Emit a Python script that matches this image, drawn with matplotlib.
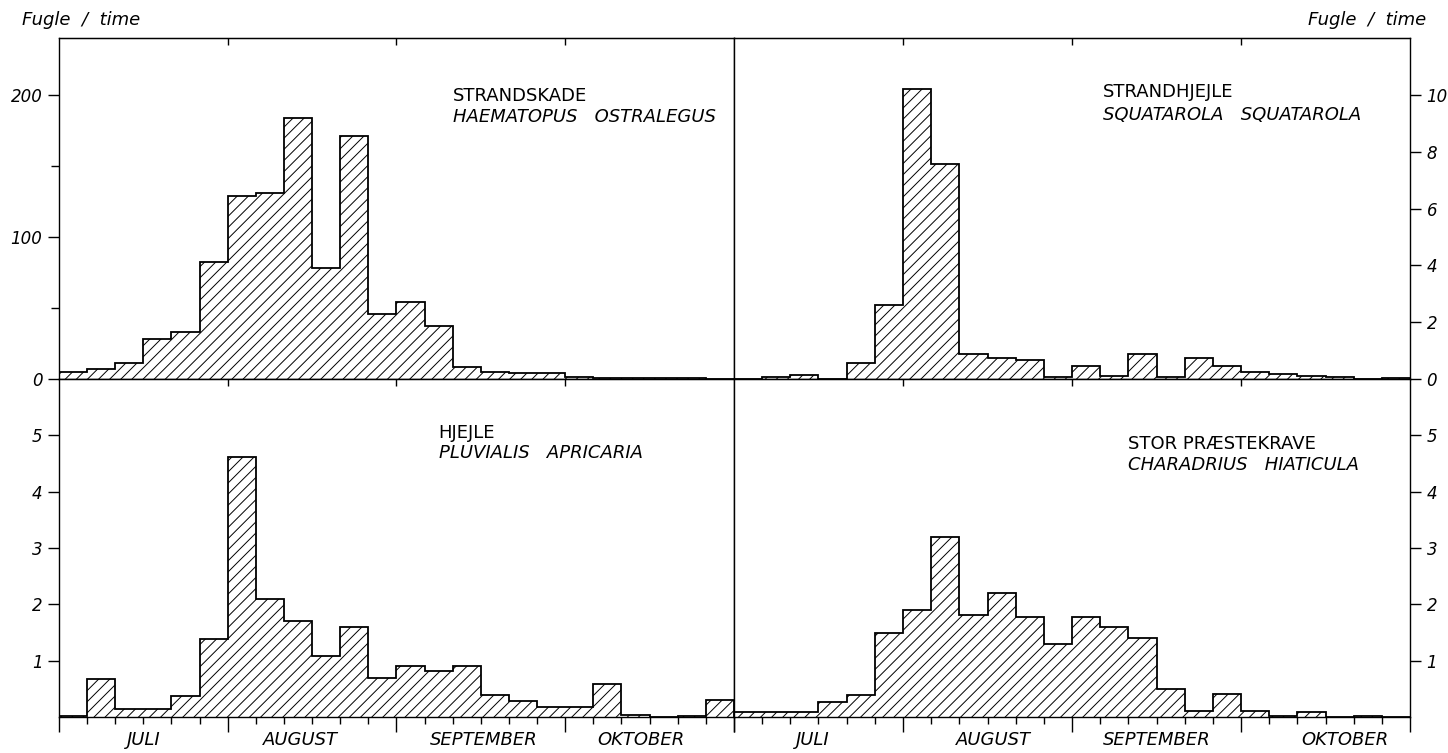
import matplotlib.pyplot as plt
import numpy as np

# 24 femdøgnsperioder fra 1. juli til 31. oktober (6 pr. måned)
n_perioder = 24
kanter = np.arange(n_perioder + 1)
maaned_graenser = [0, 6, 12, 18, 24]
maaneder = ['JULI', 'AUGUST', 'SEPTEMBER', 'OKTOBER']

# Fugle / time
strandskade = [5, 7, 11, 28, 33, 82, 129, 131, 184, 78, 171, 46,
               54, 37, 8.6, 5, 4.4, 4, 1.6, 0.9, 0.6, 0.5, 0.4, 0.3]
strandhjejle = [0, 0.08, 0.15, 0, 0.55, 2.6, 10.2, 7.55, 0.87, 0.74, 0.67, 0.08,
                0.45, 0.12, 0.87, 0.06, 0.75, 0.45, 0.26, 0.16, 0.1, 0.08, 0, 0.03]
hjejle = [0.02, 0.67, 0.15, 0.15, 0.37, 1.39, 4.61, 2.1, 1.7, 1.09, 1.6, 0.69,
          0.91, 0.81, 0.91, 0.39, 0.28, 0.18, 0.18, 0.59, 0.03, 0, 0.02, 0.3]
stor_praestekrave = [0.08, 0.08, 0.08, 0.27, 0.39, 1.49, 1.9, 3.2, 1.81, 2.2, 1.78, 1.3,
                     1.78, 1.59, 1.4, 0.5, 0.1, 0.4, 0.1, 0.02, 0.08, 0, 0.02, 0]

# måneds-etiketternes placering (lidt forskudt som i originalen)
etiket_x_venstre = [3.0, 8.6, 15.1, 20.7]
etiket_x_hoejre = [2.8, 9.2, 15.0, 21.7]

plt.rcParams['font.family'] = 'DejaVu Sans'
plt.rcParams['hatch.linewidth'] = 0.7

W, H = 1448, 753
fig = plt.figure(figsize=(W / 100, H / 100), dpi=100)


def akse(x0, y0, x1, y1):
    # pixel-koordinater (fra øverste venstre hjørne) -> figur-brøker
    return fig.add_axes([x0 / W, 1 - y1 / H, (x1 - x0) / W, (y1 - y0) / H])


def panel(ax, data, ymax, yticks, minor_y, dansk, latin, tekst_x, tekst_y,
          hoejre, nederst, etiket_x, afstand=15):
    ax.stairs(data, kanter, fill=True, facecolor='white', edgecolor='black',
              hatch='///', linewidth=1.3)
    ax.set_xlim(0, n_perioder)
    ax.set_ylim(0, ymax)
    for s in ax.spines.values():
        s.set_linewidth(1.0)

    # y-akse
    ax.set_yticks(yticks, [str(t) for t in yticks], fontstyle='italic', fontsize=12)
    ax.set_yticks(minor_y, minor=True)
    if hoejre:
        ax.yaxis.tick_right()
        ax.tick_params(axis='y', which='both', direction='out', right=True,
                       left=False, labelright=True, labelleft=False, pad=4)
    else:
        ax.tick_params(axis='y', which='both', direction='out', left=True,
                       right=False, pad=4)
    ax.tick_params(axis='y', which='major', length=8, width=1)
    ax.tick_params(axis='y', which='minor', length=6, width=1)

    # x-akse
    ax.set_xticks(maaned_graenser)
    ax.set_xticks(kanter, minor=True)
    if nederst:
        ax.tick_params(axis='x', which='major', direction='out', length=11,
                       width=1, labelbottom=False)
        ax.tick_params(axis='x', which='minor', direction='out', length=5,
                       width=1)
        for x, m in zip(etiket_x, maaneder):
            ax.text(x, -0.068, m, transform=ax.get_xaxis_transform(),
                    ha='center', va='center', fontstyle='italic', fontsize=13)
    else:
        ax.tick_params(axis='x', which='both', bottom=False, labelbottom=False)

    top = ax.secondary_xaxis('top')
    top.set_xticks(maaned_graenser[1:-1])
    top.tick_params(axis='x', direction='in', length=5, width=1, labeltop=False)

    # artsnavne: dansk over latin
    ax.text(tekst_x, tekst_y, dansk, fontsize=13, va='center', ha='left')
    ax.annotate(latin, (tekst_x, tekst_y), xytext=(0, -afstand),
                textcoords='offset points', fontsize=13, va='center',
                ha='left', fontstyle='italic')


ax1 = akse(59, 38, 734, 379)
ax2 = akse(734, 38, 1410, 379)
ax3 = akse(59, 379, 734, 717)
ax4 = akse(734, 379, 1410, 717)

panel(ax1, strandskade, 240, [0, 100, 200], [50, 150],
      'STRANDSKADE', 'HAEMATOPUS   OSTRALEGUS', 14.0, 199,
      hoejre=False, nederst=False, etiket_x=etiket_x_venstre, afstand=15)
panel(ax2, strandhjejle, 12, [0, 2, 4, 6, 8, 10], [],
      'STRANDHJEJLE', 'SQUATAROLA   SQUATAROLA', 13.1, 10.1,
      hoejre=True, nederst=False, etiket_x=etiket_x_hoejre, afstand=16.5)
panel(ax3, hjejle, 6, [1, 2, 3, 4, 5], [],
      'HJEJLE', 'PLUVIALIS   APRICARIA', 13.5, 5.05,
      hoejre=False, nederst=True, etiket_x=etiket_x_venstre, afstand=15)
panel(ax4, stor_praestekrave, 6, [1, 2, 3, 4, 5], [],
      'STOR PRÆSTEKRAVE', 'CHARADRIUS   HIATICULA', 14.0, 4.84,
      hoejre=True, nederst=True, etiket_x=etiket_x_hoejre, afstand=15)

fig.text(22 / W, 1 - 20 / H, 'Fugle  /  time', fontstyle='italic', fontsize=13,
         ha='left', va='center')
fig.text(1426 / W, 1 - 20 / H, 'Fugle  /  time', fontstyle='italic', fontsize=13,
         ha='right', va='center')

fig.savefig('out.png', dpi=100)
